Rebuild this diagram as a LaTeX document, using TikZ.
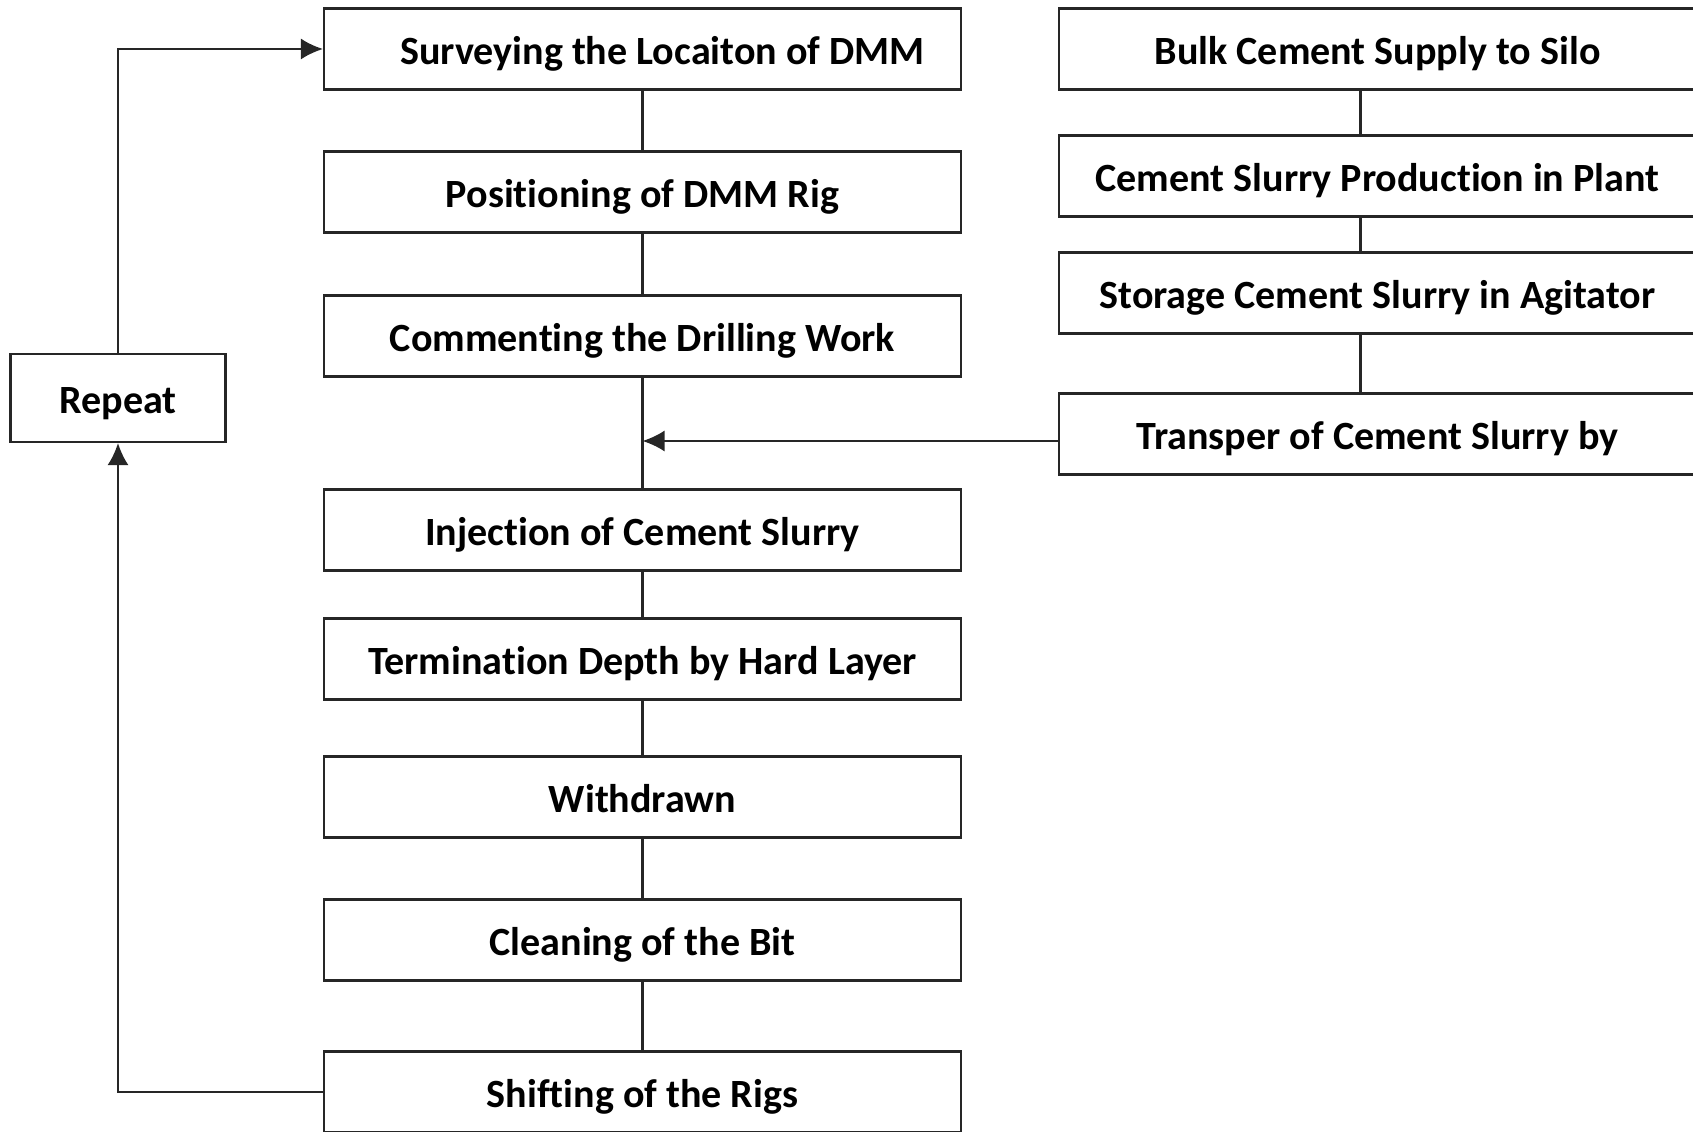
\documentclass[tikz,border=0pt]{standalone}
\usepackage{fontspec}
\setmainfont{Carlito}[Ligatures=NoCommon]
\usetikzlibrary{arrows.meta,positioning}

\begin{document}
\begin{tikzpicture}
    \tikzstyle{stage}=[draw=black!85,line width=0.6pt,fill=white,minimum width=6.37cm,minimum height=0.81cm,font=\fontsize{11.4}{13}\selectfont\bfseries,align=center,inner sep=0pt,text height=11.4pt,text depth=2.5pt]
    \tikzstyle{link}=[line width=0.6pt,draw=black!85]
    \tikzstyle{flow}=[-{Latex[length=2.2mm,width=2.1mm]},line width=0.6pt,draw=black!85]
    \useasboundingbox (0,0) rectangle (16.93,-11.32);
    % drilling column
    \node[stage] (survey) at (6.425,-0.49) {\hspace*{0.4cm}Surveying the Locaiton of DMM};
    \node[stage] (position) at (6.425,-1.92) {Positioning of DMM Rig};
    \node[stage] (comment) at (6.425,-3.36) {Commenting the Drilling Work};
    \node[stage] (inject) at (6.425,-5.30) {Injection of Cement Slurry};
    \node[stage] (terminate) at (6.425,-6.59) {Termination Depth by Hard Layer};
    \node[stage] (withdraw) at (6.425,-7.97) {Withdrawn};
    \node[stage] (clean) at (6.425,-9.40) {Cleaning of the Bit};
    \node[stage] (shift) at (6.425,-10.92) {Shifting of the Rigs};
    % cement column
    \node[stage] (bulk) at (13.775,-0.49) {Bulk Cement Supply to Silo};
    \node[stage] (plant) at (13.775,-1.76) {Cement Slurry Production in Plant};
    \node[stage] (store) at (13.775,-2.93) {Storage Cement Slurry in Agitator};
    \node[stage] (transper) at (13.775,-4.34) {Transper of Cement Slurry by};
    % loop
    \node[stage,minimum width=2.15cm,minimum height=0.88cm] (repeat) at (1.18,-3.98) {Repeat};
    \draw[link] (survey) -- (position);
    \draw[link] (position) -- (comment);
    \draw[link] (comment) -- (inject);
    \draw[link] (inject) -- (terminate);
    \draw[link] (terminate) -- (withdraw);
    \draw[link] (withdraw) -- (clean);
    \draw[link] (clean) -- (shift);
    \draw[link] ([xshift=-1.7mm]bulk.south) -- ([xshift=-1.7mm]plant.north);
    \draw[link] ([xshift=-1.7mm]plant.south) -- ([xshift=-1.7mm]store.north);
    \draw[link] ([xshift=-1.7mm]store.south) -- ([xshift=-1.7mm]transper.north);
    \coordinate (join) at (6.425,-4.41);
    \draw[flow] (transper.west |- join) -- (join);
    \draw[flow] (repeat.north) |- (survey.west);
    \draw[flow] (shift.west) -| (repeat.south);
\end{tikzpicture}
\end{document}
